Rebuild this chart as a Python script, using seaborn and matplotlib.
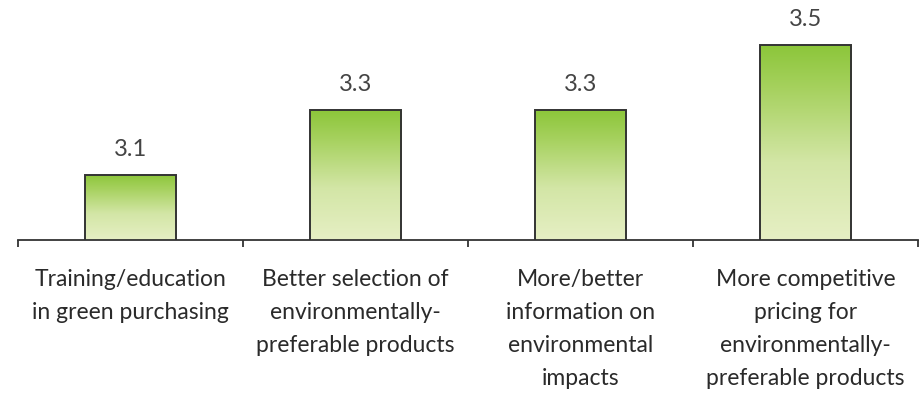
import numpy as np
import matplotlib
matplotlib.use("Agg")
import matplotlib.pyplot as plt
from matplotlib.colors import LinearSegmentedColormap
import seaborn as sns
import pandas as pd

categories = [
    "Training/education\nin green purchasing",
    "Better selection of\nenvironmentally-\npreferable products",
    "More/better\ninformation on\nenvironmental\nimpacts",
    "More competitive\npricing for\nenvironmentally-\npreferable products",
]
values = [3.1, 3.3, 3.3, 3.5]
value_labels = ["3.1", "3.3", "3.3", "3.5"]

df = pd.DataFrame({"cat": categories, "val": values})

sns.set_theme(style="white")
plt.rcParams["font.family"] = ["Lato", "DejaVu Sans"]

fig = plt.figure(figsize=(9.22, 3.93), dpi=100)
ax = fig.add_axes([18 / 922, (393 - 240) / 393, 900 / 922, 240 / 393])

sns.barplot(data=df, x="cat", y="val", ax=ax, width=0.405,
            color="#8cc63e", edgecolor="#333333", linewidth=1.4)

ymin = 2.9
ymax = ymin + 240 / 325
ax.set_ylim(ymin, ymax)
ax.set_xlim(-0.5, len(categories) - 0.5)

# vertical green gradient inside each bar
cmap = LinearSegmentedColormap.from_list(
    "greenfade",
    [(0.0, "#e6efc4"), (0.4, "#d3e6a6"), (0.78, "#a6d15e"), (1.0, "#8cc63a")],
)
grad = np.linspace(0, 1, 256).reshape(-1, 1)
for bar in ax.patches:
    x0, y0 = bar.get_x(), ymin
    w, h = bar.get_width(), bar.get_height()
    bar.set_facecolor("none")
    im = ax.imshow(grad, cmap=cmap, origin="lower", aspect="auto",
                   extent=[x0, x0 + w, y0, bar.get_y() + h], zorder=1.5)
    im.set_clip_path(bar)
    bar.set_zorder(2)

for i, (v, lab) in enumerate(zip(values, value_labels)):
    ax.text(i, v + 0.045, lab, ha="center", va="bottom",
            fontsize=17, color="#444444")

# category labels below the axis
ax.set_xticks([])
ax.set_xlabel("")
ax.set_ylabel("")
ax.set_yticks([])
for i, c in enumerate(categories):
    ax.text(i, ymin - 0.088, c, ha="center", va="top", fontsize=16.5,
            color="#2a2a2a", linespacing=1.72, transform=ax.transData,
            clip_on=False)

# boundary tick marks
ax.set_xticks([-0.5, 0.5, 1.5, 2.5, 3.5], minor=True)
ax.tick_params(axis="x", which="minor", bottom=True, length=5,
               width=1.3, color="#333333", direction="out")

for s in ["top", "right", "left"]:
    ax.spines[s].set_visible(False)
ax.spines["bottom"].set_color("#333333")
ax.spines["bottom"].set_linewidth(1.3)
ax.set_facecolor("white")
fig.patch.set_facecolor("white")

fig.savefig("out.png", dpi=100)
